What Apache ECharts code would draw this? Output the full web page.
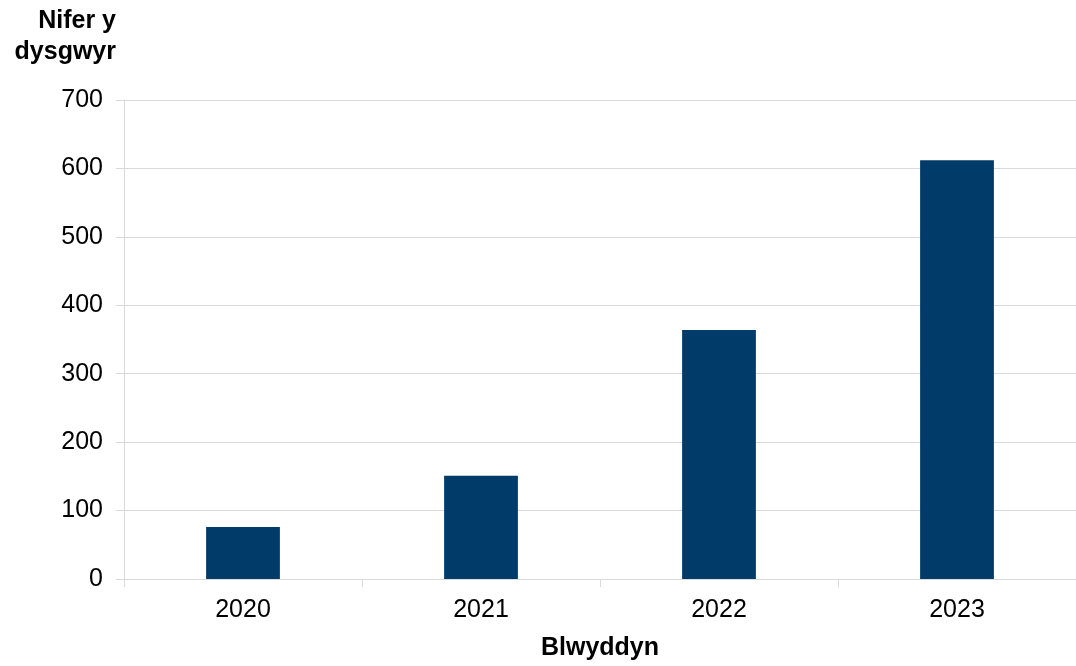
<!DOCTYPE html>
<html><head><meta charset="utf-8">
<script src="https://cdn.jsdelivr.net/npm/echarts@6/dist/echarts.min.js"></script>
<style>html,body{margin:0;padding:0;background:#fff}#c{width:1076px;height:666px}</style>
</head><body><div id="c"></div>
<script>
const categories = ['2020', '2021', '2022', '2023'];
const values = [76, 151, 364, 612];
const yTicks = [0, 100, 200, 300, 400, 500, 600, 700];
const FONT = 'Liberation Sans, Arial, sans-serif';

const chart = echarts.init(document.getElementById('c'), null, {renderer: 'canvas'});
chart.setOption({
  animation: false,
  textStyle: {fontFamily: FONT},
  grid: {left: 124, right: 0, top: 100, bottom: 86, containLabel: false},
  xAxis: {
    type: 'category',
    data: categories,
    name: 'Blwyddyn',
    nameLocation: 'middle',
    nameGap: 57,
    nameTextStyle: {fontSize: 25, fontWeight: 'bold', color: '#000', fontFamily: FONT},
    axisLine: {lineStyle: {color: '#d9d9d9', width: 1}},
    axisTick: {show: true, length: 8, lineStyle: {color: '#d9d9d9'}},
    axisLabel: {fontSize: 25, color: '#000', margin: 19, fontFamily: FONT}
  },
  yAxis: {
    type: 'value',
    min: 0, max: 700, interval: 100,
    axisLine: {show: true, lineStyle: {color: '#d9d9d9'}},
    axisTick: {show: true, length: 8, lineStyle: {color: '#d9d9d9'}},
    splitLine: {lineStyle: {color: '#d9d9d9', width: 1}},
    axisLabel: {fontSize: 25, color: '#000', margin: 21, fontFamily: FONT,
      formatter: v => yTicks.includes(v) ? String(v) : ''}
  },
  graphic: [{
    type: 'text', x: 116, y: 6,
    style: {text: 'Nifer y\ndysgwyr', fontSize: 25, fontWeight: 'bold', fontFamily: FONT, fill: '#000',
      align: 'right', textAlign: 'right', lineHeight: 31}
  }],
  series: [{
    type: 'bar',
    data: values,
    barWidth: '31%',
    itemStyle: {color: '#003b69'}
  }]
});
</script></body></html>
